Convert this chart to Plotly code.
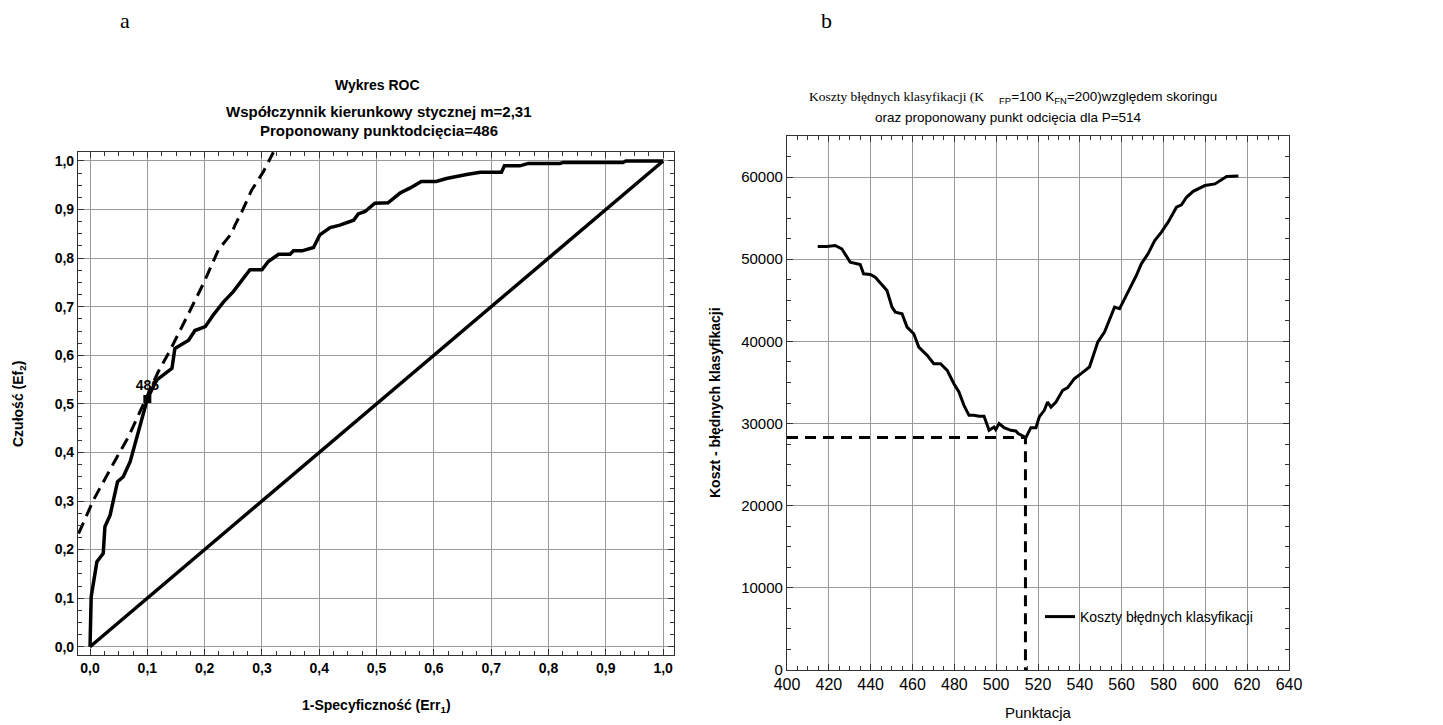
import plotly.graph_objects as go

# ---------------- Panel a: ROC ----------------
roc_fpr = [0.0, 0.002, 0.012, 0.023, 0.026, 0.035, 0.048, 0.058, 0.07, 0.096, 0.1,
           0.116, 0.143, 0.148, 0.172, 0.183, 0.201, 0.215, 0.233, 0.25, 0.265, 0.279,
           0.3, 0.311, 0.329, 0.349, 0.355, 0.37, 0.39, 0.401, 0.419, 0.436, 0.46,
           0.468, 0.48, 0.497, 0.52, 0.541, 0.558, 0.578, 0.604, 0.622, 0.657, 0.681,
           0.718, 0.723, 0.75, 0.765, 0.82, 0.826, 0.93, 0.935, 1.0]
roc_tpr = [0.0, 0.103, 0.175, 0.192, 0.247, 0.271, 0.34, 0.35, 0.381, 0.494, 0.51,
           0.549, 0.573, 0.614, 0.631, 0.651, 0.659, 0.683, 0.71, 0.731, 0.755, 0.776,
           0.776, 0.793, 0.808, 0.808, 0.815, 0.815, 0.822, 0.848, 0.863, 0.868, 0.878,
           0.891, 0.896, 0.913, 0.914, 0.934, 0.944, 0.958, 0.958, 0.964, 0.972, 0.977,
           0.977, 0.99, 0.99, 0.995, 0.995, 0.997, 0.997, 1.0, 1.0]

diag_x = [0.0, 1.0]
diag_y = [0.0, 1.0]

tangent_x = [-0.02, 0.006, 0.017, 0.032, 0.044, 0.067, 0.09, 0.119, 0.14, 0.152,
             0.169, 0.198, 0.224, 0.247, 0.253, 0.265, 0.282, 0.302, 0.32]
tangent_y = [0.233, 0.302, 0.326, 0.36, 0.384, 0.432, 0.491, 0.566, 0.611, 0.638,
             0.679, 0.748, 0.817, 0.851, 0.868, 0.896, 0.94, 0.977, 1.018]

cut_fpr = [0.1]
cut_tpr = [0.51]
cut_label = ["<b>486</b>"]

# ---------------- Panel b: costs ----------------
score = [414.7, 419, 423, 426.2, 430.2, 435, 436.6, 439.8, 442.2, 446.2, 447.8, 450.2,
         451.8, 455, 457.4, 460.6, 463, 467, 470.2, 473.4, 476.6, 479.8, 482.2, 484.6,
         487, 489.4, 491.8, 494.2, 496.6, 499, 499.8, 501.4, 503.8, 507, 509.4, 510.5,
         514.2, 516.6, 519, 520.6, 523, 524.6, 526.2, 528.6, 531.8, 534.2, 537.4, 540.6,
         544.6, 548.6, 551.8, 556.6, 559, 563, 567, 569.4, 572.6, 575.8, 579, 582.2,
         586.2, 588.6, 591, 594.2, 599.8, 604.6, 610.2, 615.8]
cost = [51550, 51550, 51670, 51270, 49645, 49360, 48225, 48145, 47820, 46600, 46200, 44170,
        43560, 43365, 41740, 40930, 39310, 38300, 37290, 37290, 36470, 34855, 33840, 32220,
        31000, 31000, 30880, 30880, 29180, 29580, 29260, 29990, 29500, 29180, 29100, 28775,
        28290, 29500, 29500, 30800, 31610, 32620, 32010, 32620, 34040, 34370, 35460, 36070,
        36880, 39920, 41130, 44170, 43970, 45990, 48020, 49440, 50660, 52280, 53290, 54510,
        56330, 56610, 57540, 58270, 58970, 59170, 60060, 60140]

cut_score = 514
cut_cost = 28290
right_x_start = 400

fig = go.Figure()

# Left panel traces
fig.add_trace(go.Scatter(x=diag_x, y=diag_y, mode="lines", line=dict(color="black", width=3.5),
                         showlegend=False, xaxis="x", yaxis="y", hoverinfo="skip"))
fig.add_trace(go.Scatter(x=tangent_x, y=tangent_y, mode="lines",
                         line=dict(color="black", width=3, dash="12px,7px"),
                         showlegend=False, xaxis="x", yaxis="y", hoverinfo="skip"))
fig.add_trace(go.Scatter(x=roc_fpr, y=roc_tpr, mode="lines", line=dict(color="black", width=3.5),
                         showlegend=False, xaxis="x", yaxis="y"))
fig.add_trace(go.Scatter(x=cut_fpr, y=cut_tpr, mode="markers+text", text=cut_label,
                         textposition="top center",
                         textfont=dict(family="Liberation Sans, Arial", size=14, color="black"),
                         marker=dict(symbol="square", size=8, color="black"),
                         showlegend=False, xaxis="x", yaxis="y"))

# Right panel traces
fig.add_trace(go.Scatter(x=[right_x_start, cut_score, cut_score], y=[cut_cost, cut_cost, 0],
                         mode="lines", line=dict(color="black", width=3, dash="11px,7px"),
                         showlegend=False, xaxis="x2", yaxis="y2", hoverinfo="skip"))
fig.add_trace(go.Scatter(x=score, y=cost, mode="lines", line=dict(color="black", width=3),
                         name="Koszty błędnych klasyfikacji", showlegend=True,
                         xaxis="x2", yaxis="y2"))

# page body has an 8px margin: the figure is drawn at (8, 8) in the window
OFF = 8
W, H = 1443 - 2 * OFF, 725 - OFF
def px_x(p): return (p - OFF) / W
def px_y(p): return 1 - (p - OFF) / H

grid_col = "#9a9a9a"
common_axis = dict(showline=True, linecolor="#333333", linewidth=1.2, mirror="allticks",
                   ticks="inside", ticklen=6, tickcolor="#333333", showgrid=True,
                   gridcolor=grid_col, gridwidth=1, zeroline=False, automargin=False)

left_tick_font = dict(family="Liberation Sans, Arial", size=14, color="black", weight="bold")

fig.update_layout(
    width=W, height=H, autosize=False,
    margin=dict(l=0, r=0, t=0, b=0, pad=0, autoexpand=False),
    paper_bgcolor="white", plot_bgcolor="white",
    separators=", ",
    xaxis=dict(domain=[px_x(78), px_x(674)], range=[-0.021, 1.019], dtick=0.1, tick0=0,
               tickformat=".1f", anchor="y", tickfont=left_tick_font,
               minor=dict(dtick=0.025, ticks="inside", ticklen=4, tickcolor="#333333", showgrid=False),
               **common_axis),
    yaxis=dict(domain=[px_y(655), px_y(152)], range=[-0.017, 1.0185], dtick=0.1, tick0=0,
               tickformat=".1f", anchor="x", tickfont=left_tick_font,
               minor=dict(dtick=0.025, ticks="inside", ticklen=4, tickcolor="#333333", showgrid=False),
               **common_axis),
    xaxis2=dict(domain=[px_x(787), px_x(1289)], range=[400, 640], dtick=20, tick0=400,
                anchor="y2",
                tickfont=dict(family="Liberation Sans, Arial", size=16, color="black"),
                minor=dict(dtick=5, ticks="inside", ticklen=4, tickcolor="#333333", showgrid=False),
                **common_axis),
    yaxis2=dict(domain=[px_y(670), px_y(136)], range=[0, 65000], dtick=10000, tick0=0,
                tickformat="d", anchor="x2",
                tickfont=dict(family="Liberation Sans, Arial", size=15, color="black"),
                minor=dict(dtick=2500, ticks="inside", ticklen=4, tickcolor="#333333", showgrid=False),
                **common_axis),
    legend=dict(x=px_x(1040), y=px_y(617), xanchor="left", yanchor="middle",
                bgcolor="rgba(0,0,0,0)", borderwidth=0,
                font=dict(family="Liberation Sans, Arial", size=14, color="black"),
                itemwidth=30),
)

bold = "Liberation Sans, Arial"
ann = [
    dict(x=px_x(125), y=px_y(20), text="a", font=dict(family="Liberation Serif, Times New Roman", size=22)),
    dict(x=px_x(826), y=px_y(20), text="b", font=dict(family="Liberation Serif, Times New Roman", size=22)),
    dict(x=px_x(378), y=px_y(85), text="<b>Wykres ROC</b>", font=dict(family=bold, size=14)),
    dict(x=px_x(379), y=px_y(112), text="<b>Współczynnik kierunkowy stycznej m=2,31</b>",
         font=dict(family=bold, size=15)),
    dict(x=px_x(379), y=px_y(130), text="<b>Proponowany punktodcięcia=486</b>",
         font=dict(family=bold, size=15)),
    dict(x=px_x(376), y=px_y(706), text="<b>1-Specyficzność (Err<sub>1</sub>)</b>",
         font=dict(family=bold, size=14)),
    dict(x=px_x(19), y=px_y(404), text="<b>Czułość (Ef<sub>2</sub>)</b>", textangle=-90,
         font=dict(family=bold, size=14)),
    dict(x=px_x(1013), y=px_y(97),
         text="<span style=\"font-family:'Liberation Serif','Times New Roman'\">Koszty błędnych klasyfikacji (K</span>"
              "    <sub>FP</sub>=100 K<sub>FN</sub>=200)względem skoringu",
         font=dict(family="Liberation Sans, Arial", size=13.5)),
    dict(x=px_x(1008), y=px_y(117), text="oraz proponowany punkt odcięcia dla P=514",
         font=dict(family="Liberation Sans, Arial", size=13.5)),
    dict(x=px_x(1038), y=px_y(712), text="Punktacja",
         font=dict(family="Liberation Sans, Arial", size=15)),
    dict(x=px_x(715), y=px_y(403), text="<b>Koszt - błędnych klasyfikacji</b>", textangle=-90,
         font=dict(family=bold, size=14)),
]
for a in ann:
    a.update(xref="paper", yref="paper", showarrow=False, xanchor="center", yanchor="middle")
    a["font"].setdefault("color", "black")
fig.update_layout(annotations=ann)

fig.write_html("out.html")
